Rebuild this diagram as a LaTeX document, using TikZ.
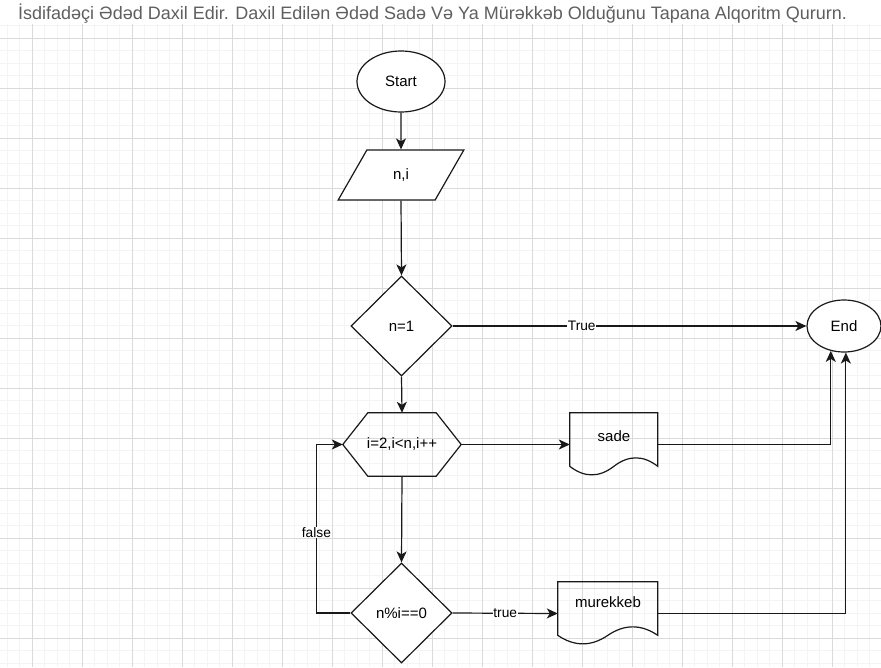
\documentclass[tikz,border=0pt]{standalone}
\usepackage{fontspec}
\setmainfont{Liberation Sans}
\usepackage{tikz}
\usetikzlibrary{shapes.geometric,arrows.meta,calc}

\definecolor{minorgrid}{RGB}{244,244,244}
\definecolor{majorgrid}{RGB}{218,218,218}
\definecolor{titlegray}{RGB}{95,95,95}

\tikzset{
  outline/.style={draw=black!90, line width=1.2pt},
  arr/.style={draw=black!90, line width=1.2pt, -{Stealth[length=11pt,width=10pt,inset=3pt]}},
  txt/.style={font=\fontsize{15}{18}\selectfont, text=black},
  terminal/.style={ellipse, outline, fill=white, inner sep=0pt, txt},
  decision/.style={diamond, outline, fill=white, inner sep=0pt, minimum width=101pt, minimum height=100pt, txt},
  iobox/.style={trapezium, trapezium left angle=62.5, trapezium right angle=117.5, trapezium stretches=true,
    outline, fill=white, inner sep=0pt, minimum width=126pt, minimum height=50pt, txt},
  hexbox/.style={rectangle, inner sep=0pt, minimum width=118pt, minimum height=63pt, txt},
  docbox/.style={rectangle, inner sep=0pt, minimum height=63pt},
  edgelbl/.style={fill=white, inner sep=0.5pt, font=\fontsize{13.75}{16}\selectfont, text=black},
  titletxt/.style={font=\fontsize{18}{21}\selectfont, text=titlegray, inner sep=0pt}
}

\begin{document}
\begin{tikzpicture}[x=1pt,y=-1pt]
  \useasboundingbox (0,0) rectangle (881,667);
  \fill[white] (0,0) rectangle (881,667);
  % grid
  \foreach \gx in {7,19.5,...,881} \draw[minorgrid, line width=1pt] (\gx,0) -- (\gx,667);
  \foreach \gy in {0.5,13,...,667} \draw[minorgrid, line width=1pt] (0,\gy) -- (881,\gy);
  \foreach \gx in {32,82,...,881} \draw[majorgrid, line width=1pt] (\gx,0) -- (\gx,667);
  \foreach \gy in {38,88,...,667} \draw[majorgrid, line width=1pt] (0,\gy) -- (881,\gy);
  \fill[white] (0,0) rectangle (881,24);

  \node[titletxt, anchor=west] (title) at (18,14) {İsdifadəçi Ədəd Daxil Edir. Daxil Edilən Ədəd Sadə Və Ya Mürəkkəb Olduğunu Tapana Alqoritm Qururn.};

  \node[terminal, minimum width=88pt, minimum height=61pt] (start) at (401,81.5) {Start};
  \node[iobox] (inp) at (401,175) {n,i};
  \node[decision] (chk1) at (401.5,326) {n=1};
  \node[terminal, minimum width=74pt, minimum height=52pt] (end) at (844,326) {End};
  \node[hexbox] (loop) at (402,444.5) {i=2,i<n,i++};
  \node[decision] (chk2) at (401.5,613) {n\%i==0};
  \node[docbox, minimum width=88pt] (sade) at (614,444.5) {};
  \node[docbox, minimum width=100pt] (murk) at (608,613.5) {};

  % shapes drawn round the boxes
  \draw[outline] (loop.west) -- ($(loop.north west)+(25,0)$) -- ($(loop.north east)+(-25,0)$) -- (loop.east)
    -- ($(loop.south east)+(-25,0)$) -- ($(loop.south west)+(25,0)$) -- cycle;
  \draw[outline, shift={(sade.north west)}] (0,0) -- (88,0) -- (88,53.55)
    .. controls (73.33,42.21) and (58.67,42.21) .. (44,53.55)
    .. controls (29.33,64.89) and (14.67,64.89) .. (0,53.55) -- cycle;
  \draw[outline, shift={(murk.north west)}] (0,0) -- (100,0) -- (100,53.55)
    .. controls (83.33,42.21) and (66.67,42.21) .. (50,53.55)
    .. controls (33.33,64.89) and (16.67,64.89) .. (0,53.55) -- cycle;
  \node[txt] (sadetxt) at ($(sade.center)+(0,-8)$) {sade};
  \node[txt] (murktxt) at ($(murk.center)+(0,-11)$) {murekkeb};

  % connectors
  \draw[arr] (start.south) -- (inp.north);
  \draw[arr] (inp.south) -- (chk1.north);
  \draw[arr] (chk1.east) -- node[edgelbl, pos=0.365] {True} (end.west);
  \draw[arr] (chk1.south) -- (loop.north);
  \draw[arr] (loop.east) -- (sade.west);
  \draw[arr] (sade.east) -| (end.242);
  \draw[arr] (loop.south) -- (chk2.north);
  \draw[arr] (chk2.east) -- node[edgelbl] {true} (murk.west);
  \draw[arr] (chk2.west) -- ++(-34,0) |- node[edgelbl, pos=0.24] {false} (loop.west);
  \draw[arr] (murk.east) -| (end.274);
\end{tikzpicture}
\end{document}
